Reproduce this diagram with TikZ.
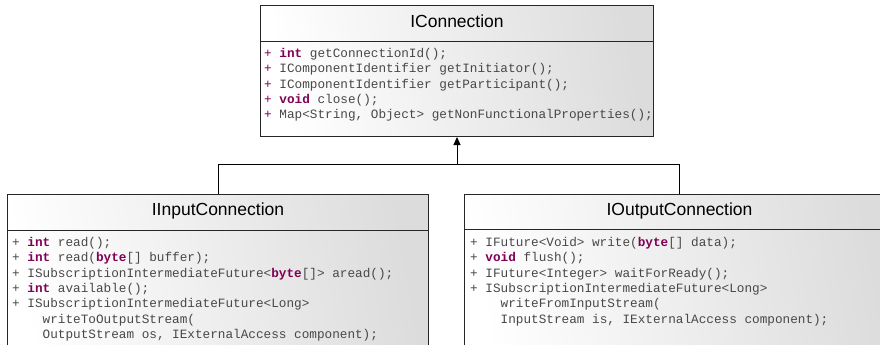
\documentclass[tikz,border=0pt]{standalone}
\usepackage{fontspec}
\setmainfont{Liberation Sans}
\newfontfamily\codefont{Liberation Mono}
\usetikzlibrary{arrows.meta}
\definecolor{kw}{HTML}{7F0055}
\definecolor{txt}{HTML}{484848}
\definecolor{boxgray}{HTML}{DCDCDC}
\newcommand{\kwd}[1]{\textcolor{kw}{\bfseries #1}}
\newcommand{\kplus}{\textcolor{kw}{+}}
\begin{document}
\begin{tikzpicture}[x=1pt,y=-1pt,
  classbox/.style={draw=black!85, line width=1pt, left color=white, right color=boxgray, shading angle=100, anchor=north west, inner sep=0pt},
  divider/.style={draw=black!85, line width=1pt},
  ctitle/.style={font=\fontsize{17.5}{20}\selectfont, text=black, inner sep=0pt},
  code/.style={font=\codefont\fontsize{12.7}{15}\selectfont, text=txt, anchor=mid west, inner sep=0pt},
  conn/.style={draw=black, line width=1pt},
  genarrow/.style={conn, -{Triangle[length=8pt,width=7pt]}}]
\useasboundingbox (0,0) rectangle (880,345);
\clip (0,0) rectangle (880,345);
% boxes
\node[classbox, minimum width=393pt, minimum height=131pt] (iconn) at (260,5) {};
\node[classbox, minimum width=421pt, minimum height=200pt] (iin) at (7,194) {};
\node[classbox, minimum width=430pt, minimum height=200pt] (iout) at (464,194) {};
% dividers
\draw[divider] ([yshift=-37pt]iconn.north west) -- ([yshift=-37pt]iconn.north east);
\draw[divider] ([yshift=-36pt]iin.north west) -- ([yshift=-36pt]iin.north east);
\draw[divider] ([yshift=-35pt]iout.north west) -- ([yshift=-35pt]iout.north east);
% titles
\node[ctitle] (tconn) at ([yshift=-16.5pt]iconn.north) {IConnection};
\node[ctitle] (tin) at ([yshift=-16.5pt]iin.north) {IInputConnection};
\node[ctitle] (tout) at ([yshift=-16.5pt]iout.north) {IOutputConnection};
% IConnection members
\node[code] (c1) at (264,55) {\kplus{} \kwd{int} getConnectionId();};
\node[code] (c2) at (264,70) {\kplus{} IComponentIdentifier getInitiator();};
\node[code] (c3) at (264,85.5) {\kplus{} IComponentIdentifier getParticipant();};
\node[code] (c4) at (264,100.5) {\kplus{} \kwd{void} close();};
\node[code] (c5) at (264,115.5) {\kplus{} Map<String, Object> getNonFunctionalProperties();};
% IInputConnection members
\node[code] (i1) at (12,244) {+ \kwd{int} read();};
\node[code] (i2) at (12,259.3) {+ \kwd{int} read(\kwd{byte}[] buffer);};
\node[code] (i3) at (12,274.6) {+ ISubscriptionIntermediateFuture<\kwd{byte}[]> aread();};
\node[code] (i4) at (12,289.9) {+ \kwd{int} available();};
\node[code] (i5) at (12,305.2) {+ ISubscriptionIntermediateFuture<Long>};
\node[code] (i6) at (42.5,320.5) {writeToOutputStream(};
\node[code] (i7) at (42.5,335.8) {OutputStream os, IExternalAccess component);};
% IOutputConnection members
\node[code] (o1) at (470,244) {+ IFuture<Void> write(\kwd{byte}[] data);};
\node[code] (o2) at (470,259.3) {+ \kwd{void} flush();};
\node[code] (o3) at (470,274.6) {+ IFuture<Integer> waitForReady();};
\node[code] (o4) at (470,289.9) {+ ISubscriptionIntermediateFuture<Long>};
\node[code] (o5) at (500.5,305.2) {writeFromInputStream(};
\node[code] (o6) at (500.5,320.5) {InputStream is, IExternalAccess component);};
% connectors
\coordinate (junc) at (iconn.south |- 0,164.5);
\draw[conn] (iin.north) |- (junc) -| (iout.north);
\draw[genarrow] (junc) -- (iconn.south);
\end{tikzpicture}
\end{document}
